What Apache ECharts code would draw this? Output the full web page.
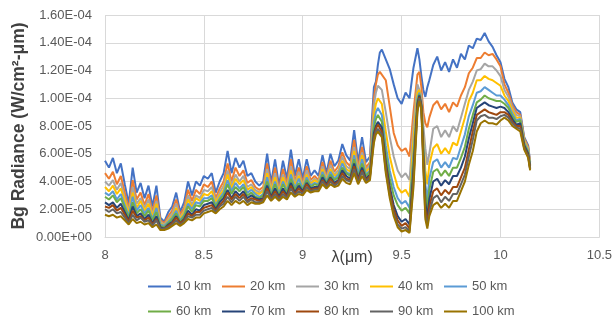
<!DOCTYPE html>
<html>
<head>
<meta charset="utf-8">
<script src="https://cdn.jsdelivr.net/npm/echarts@6/dist/echarts.min.js"></script>
<style>
html,body{margin:0;padding:0;background:#fff;}
#chart{width:615px;height:321px;}
</style>
</head>
<body>
<div id="chart"></div>
<script>
// Wavelength (µm)
const wavelength = [
8.00,8.02,8.04,8.06,8.08,8.10,8.12,8.14,8.16,8.18,8.20,8.22,8.24,8.26,8.28,8.30,8.32,8.34,8.36,8.38,
8.40,8.42,8.44,8.46,8.48,8.50,8.52,8.54,8.56,8.58,8.60,8.62,8.64,8.66,8.68,8.70,8.72,8.74,8.76,8.78,
8.80,8.82,8.84,8.86,8.88,8.90,8.92,8.94,8.96,8.98,9.00,9.02,9.04,9.06,9.08,9.10,9.12,9.14,9.16,9.18,
9.20,9.22,9.24,9.26,9.28,9.30,9.32,9.34,
9.35,9.36,9.37,9.38,9.39,9.40,9.42,9.44,9.46,9.48,9.50,9.52,9.54,9.56,9.58,9.59,9.60,9.61,9.62,9.63,9.64,
9.66,9.68,9.70,9.72,9.74,9.76,9.78,9.80,9.82,9.84,9.86,9.88,9.90,9.92,9.94,9.96,9.98,10.00,
10.02,10.04,10.06,10.08,10.10,10.12,10.14,10.15
];

// Background radiance, in units of 1E-06 W/cm²-µm
const rad10km = [
55,50,57,46,53,38,24,50,32,39, 28,37,22,37,14,11,18,22,32,18, 25,40,30,40,37,44,42,46,32,40,
46,62,46,57,50,55,44,46,40,37, 40,60,39,56,37,55,42,63,44,56, 42,56,44,48,44,59,46,60,51,55,
67,59,55,77,54,72,54,58,
85,108,112,124,133,135,128,121,110,100,96,104,100,122,136,128,116,106,101,108,113,
124,130,120,126,119,128,122,132,128,138,136,143,142,147,141,137,131,126,
114,108,97,92,90,72,66,54
];
const rad20km = [
46,42,47,38,44,32,20,41,27,32, 23,31,18,30,12,10,15,19,27,16, 21,34,26,34,31,38,36,40,28,35,
40,53,40,50,44,48,39,41,36,34, 36,53,36,50,34,49,38,56,40,50, 39,51,41,44,41,54,43,55,47,51,
61,54,51,70,50,65,50,54,
78,100,110,117,119,118,113,94,75,66,62,64,58,90,117,119,108,90,82,79,86,
95,98,92,96,90,97,94,102,108,118,122,129,129,133,131,132,128,123,
110,104,95,90,88,71,65,53
];
const rad30km = [
40,37,41,34,39,28,18,36,24,28, 21,27,16,26,11,9,13,17,24,14, 19,30,23,30,28,34,33,36,26,32,
37,48,37,45,40,44,36,38,34,32, 34,49,34,46,33,45,36,51,38,47, 37,48,39,42,40,51,42,52,45,48,
58,51,49,65,48,61,48,52,
74,95,104,109,110,106,90,72,58,48,43,46,41,80,110,111,102,80,64,52,60,
78,80,72,77,72,80,76,86,96,106,112,120,121,125,123,123,120,116,
106,101,93,88,87,70,64,52
];
const rad40km = [
36,33,37,31,35,26,17,32,21,26, 19,24,15,24,10,8,12,15,21,13, 18,27,21,28,26,31,30,33,25,30,
34,45,35,42,38,41,34,36,32,31, 33,46,33,43,32,43,35,48,37,44, 36,45,38,41,39,49,41,49,44,46,
55,49,47,62,46,59,47,50,
70,88,96,100,100,96,76,58,46,36,32,34,29,70,104,106,96,70,48,38,52,
64,67,60,64,60,68,66,76,86,98,104,113,113,116,114,113,111,109,
102,98,91,86,86,69,63,52
];
const rad50km = [
32,30,33,27,31,23,15,29,19,23, 17,21,13,21,9,8,11,14,19,12, 16,24,20,25,24,28,28,30,23,28,
32,41,33,39,35,38,32,34,31,29, 31,43,31,40,31,40,33,45,35,42, 35,43,37,39,38,47,40,47,42,45,
53,47,45,59,45,56,45,48,
67,83,90,93,93,88,66,48,36,28,24,26,21,60,100,104,96,66,38,27,42,
54,56,50,54,50,57,56,65,74,87,95,104,105,108,106,104,102,102,
99,95,89,84,85,68,62,51
];
const rad60km = [
29,27,30,25,28,21,14,25,17,20, 15,19,12,18,8,7,10,13,17,11, 15,22,18,23,22,26,26,28,22,27,
30,38,31,36,33,36,30,32,29,28, 30,40,30,38,30,38,32,42,34,39, 34,41,36,38,37,45,39,45,41,43,
50,46,44,56,43,53,44,47,
64,79,85,88,88,83,60,42,30,23,19,21,17,55,98,103,95,62,32,20,34,
47,49,44,48,44,50,50,57,65,78,88,97,99,102,100,99,98,98,
96,93,87,83,84,67,61,51
];
const rad70km = [
25,23,25,21,24,18,12,22,15,17, 13,16,10,15,7,6,9,11,15,10, 13,19,16,20,19,23,24,25,20,25,
28,34,28,33,30,33,28,30,28,27, 28,37,29,35,29,35,30,39,32,37, 33,39,35,36,36,43,38,43,39,41,
48,44,42,53,42,50,42,45,
61,75,80,83,83,79,54,36,23,15,11,13,9,48,96,102,95,58,25,14,27,
40,42,37,41,38,44,44,50,58,71,82,93,95,97,95,94,93,94,
93,90,85,81,82,66,60,50
];
const rad80km = [
22,21,23,19,21,16,11,19,14,15, 12,14,9,13,6,6,8,10,14,10, 12,17,15,18,18,21,22,23,19,23,
26,32,27,31,28,31,26,28,27,26, 27,35,28,33,28,33,29,37,31,35, 32,38,34,35,35,41,37,42,38,40,
46,42,41,51,41,48,41,44,
59,72,78,81,80,76,51,33,20,12,8,10,6,44,94,101,94,55,20,10,22,
33,35,30,34,31,36,36,43,50,63,76,88,90,92,90,89,88,90,
90,88,83,80,80,65,59,49
];
const rad90km = [
20,18,20,17,18,14,10,16,12,14, 11,12,8,12,6,6,7,9,12,9, 11,15,14,16,16,19,20,21,18,22,
24,29,25,29,26,29,25,27,25,25, 26,33,27,31,27,31,28,35,30,33, 31,36,33,34,34,40,36,40,37,39,
44,41,40,49,39,47,40,43,
57,70,76,78,78,74,48,30,17,9,6,7,4,40,92,100,93,52,16,8,18,
28,30,25,29,26,31,31,38,45,58,70,84,87,88,86,86,85,87,
88,86,82,79,78,64,58,49
];
const rad100km = [
16,15,16,14,15,12,9,13,10,11, 9,10,7,9,5,5,6,8,10,8, 10,13,12,14,14,17,18,19,17,20,
22,26,23,26,24,26,23,25,24,24, 25,30,26,29,26,29,27,32,29,31, 30,34,32,33,33,38,35,38,36,37,
42,39,38,46,38,44,39,41,
55,68,74,76,76,72,46,28,15,7,4,5,3,36,90,98,92,50,13,6,15,
23,25,21,24,21,26,26,33,40,52,62,76,82,84,82,82,81,84,
86,84,80,78,76,63,57,48
];

const seriesNames = ['10 km','20 km','30 km','40 km','50 km','60 km','70 km','80 km','90 km','100 km'];
const seriesValues = [rad10km,rad20km,rad30km,rad40km,rad50km,rad60km,rad70km,rad80km,rad90km,rad100km];
const seriesColors = ['#4472C4','#ED7D31','#A5A5A5','#FFC000','#5B9BD5','#70AD47','#264478','#9E480E','#636363','#997300'];

const xTickLabels = ['8','8.5','9','9.5','10','10.5'];
const yTickLabels = ['0.00E+00','2.00E-05','4.00E-05','6.00E-05','8.00E-05','1.00E-04','1.20E-04','1.40E-04','1.60E-04'];

const FONT = '"Liberation Sans", Arial, sans-serif';

const chart = echarts.init(document.getElementById('chart'), null, {renderer:'canvas'});

const series = seriesNames.map((name, k) => ({
  name: name,
  type: 'line',
  symbol: 'none',
  smooth: false,
  color: seriesColors[k],
  lineStyle: {width: 2, color: seriesColors[k]},
  data: wavelength.map((x, i) => [x, seriesValues[k][i]])
}));

// One legend block per entry, laid out as a 5 x 2 grid like the original
const legends = seriesNames.map((name, k) => ({
  left: 148 + 74 * (k % 5),
  top: k < 5 ? 280 : 305,
  padding: 0,
  orient: 'horizontal',
  icon: 'rect',
  itemWidth: 23,
  itemHeight: 2,
  textStyle: {fontFamily: FONT, fontSize: 13, color: '#595959'},
  data: [name]
}));

chart.setOption({
  animation: false,
  backgroundColor: '#ffffff',
  grid: {left: 105, right: 12, top: 15, bottom: 84, containLabel: false},
  legend: legends,
  xAxis: {
    type: 'value',
    min: 8, max: 10.5, interval: 0.5,
    name: 'λ(μm)',
    nameLocation: 'middle',
    nameGap: 13,
    nameMoveOverlap: false,
    nameTextStyle: {fontFamily: FONT, fontSize: 16, color: '#404040'},
    axisLine: {show: true, lineStyle: {color: '#d9d9d9', width: 1}},
    axisTick: {show: false},
    axisLabel: {
      fontFamily: FONT, fontSize: 13, color: '#595959', margin: 12,
      formatter: v => xTickLabels[Math.round((v - 8) / 0.5)]
    },
    splitLine: {show: true, lineStyle: {color: '#d9d9d9', width: 1}}
  },
  yAxis: {
    type: 'value',
    min: 0, max: 160, interval: 20,
    name: 'Bg Radiance (W/cm²-μm)',
    nameLocation: 'middle',
    nameGap: 77,
    nameMoveOverlap: false,
    nameRotate: 90,
    nameTextStyle: {fontFamily: FONT, fontSize: 17.5, fontWeight: 'bold', color: '#404040'},
    axisLine: {show: false},
    axisTick: {show: false},
    axisLabel: {
      fontFamily: FONT, fontSize: 13, color: '#595959', margin: 13,
      formatter: v => yTickLabels[Math.round(v / 20)]
    },
    splitLine: {show: true, lineStyle: {color: '#d9d9d9', width: 1}}
  },
  series: series
});
</script>
</body>
</html>
